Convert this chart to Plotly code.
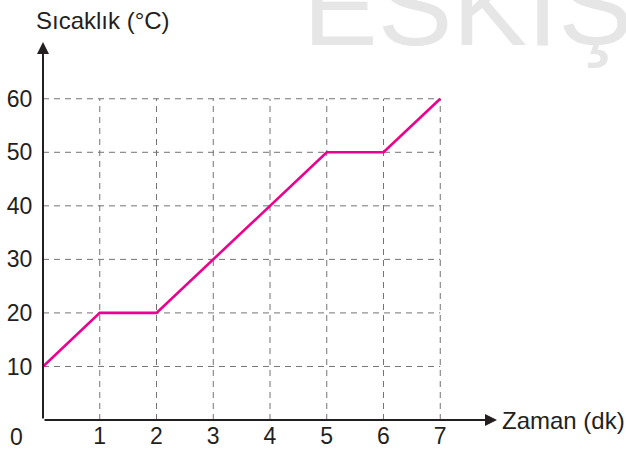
import plotly.graph_objects as go

time_min = [0, 1, 2, 5, 6, 7]
temp_c = [10, 20, 20, 50, 50, 60]
x_ticks = [1, 2, 3, 4, 5, 6, 7]
y_ticks = [10, 20, 30, 40, 50, 60]
x_label = "Zaman (dk)"
y_label = "Sıcaklık (°C)"
watermark = "ESKİŞ"

X_MAX, Y_MAX = 8.0, 70.6
FONT = "Liberation Sans, Arial, sans-serif"
INK = "#231f20"

fig = go.Figure()

shapes = []
for xv in x_ticks:
    shapes.append(dict(type="line", xref="x", yref="y", x0=xv, x1=xv, y0=0, y1=max(y_ticks),
                       line=dict(color="#737373", width=1, dash="6px,5px"), layer="below"))
for yv in y_ticks:
    shapes.append(dict(type="line", xref="x", yref="y", x0=0, x1=max(x_ticks), y0=yv, y1=yv,
                       line=dict(color="#737373", width=1, dash="6px,5px"), layer="below"))

fig.add_trace(go.Scatter(x=time_min, y=temp_c, mode="lines",
                         line=dict(color="#ec008c", width=2.6), cliponaxis=False,
                         hoverinfo="skip"))

annotations = [
    dict(x=0.568, y=1.0, xref="paper", yref="paper", xanchor="left", yanchor="bottom",
         yshift=-29, text=watermark, showarrow=False,
         font=dict(size=112, color="#e6e6e6", family=FONT)),
    dict(x=X_MAX, y=0, ax=0, ay=0, xref="x", yref="y", axref="x", ayref="y",
         showarrow=True, arrowhead=2, arrowsize=1.2, arrowwidth=2, arrowcolor=INK, text=""),
    dict(x=0, y=Y_MAX, ax=0, ay=0, xref="x", yref="y", axref="x", ayref="y",
         showarrow=True, arrowhead=2, arrowsize=1.2, arrowwidth=2, arrowcolor=INK, text=""),
    dict(x=X_MAX, y=0, xref="x", yref="y", xanchor="left", yanchor="middle", xshift=3,
         text=x_label, showarrow=False, font=dict(size=24, color=INK, family=FONT)),
    dict(x=0, y=Y_MAX, xref="x", yref="y", xanchor="center", yanchor="bottom", yshift=6, xshift=60,
         text=y_label, showarrow=False, font=dict(size=24, color=INK, family=FONT)),
    dict(x=0, y=0, xref="x", yref="y", xanchor="right", yanchor="top", xshift=-18, yshift=-2,
         text="0", showarrow=False, font=dict(size=23, color=INK, family=FONT)),
]

fig.update_layout(
    width=626, height=449,
    margin=dict(l=43, r=129, t=42, b=29),
    paper_bgcolor="white", plot_bgcolor="white",
    showlegend=False,
    shapes=shapes,
    annotations=annotations,
    xaxis=dict(range=[0, X_MAX], tickvals=x_ticks, ticktext=[str(v) for v in x_ticks],
               showgrid=False, zeroline=False, showline=False, ticks="",
               automargin=False, fixedrange=True,
               tickfont=dict(size=23, color=INK, family=FONT)),
    yaxis=dict(range=[0, Y_MAX], tickvals=y_ticks, ticktext=[str(v) for v in y_ticks],
               showgrid=False, zeroline=False, showline=False, ticks="outside", ticklen=5,
               tickcolor="rgba(0,0,0,0)", automargin=False, fixedrange=True,
               tickfont=dict(size=23, color=INK, family=FONT)),
)

fig.write_html("out.html", config={"displayModeBar": False},
               post_script="document.body.style.margin='0';document.body.style.overflow='hidden';")
